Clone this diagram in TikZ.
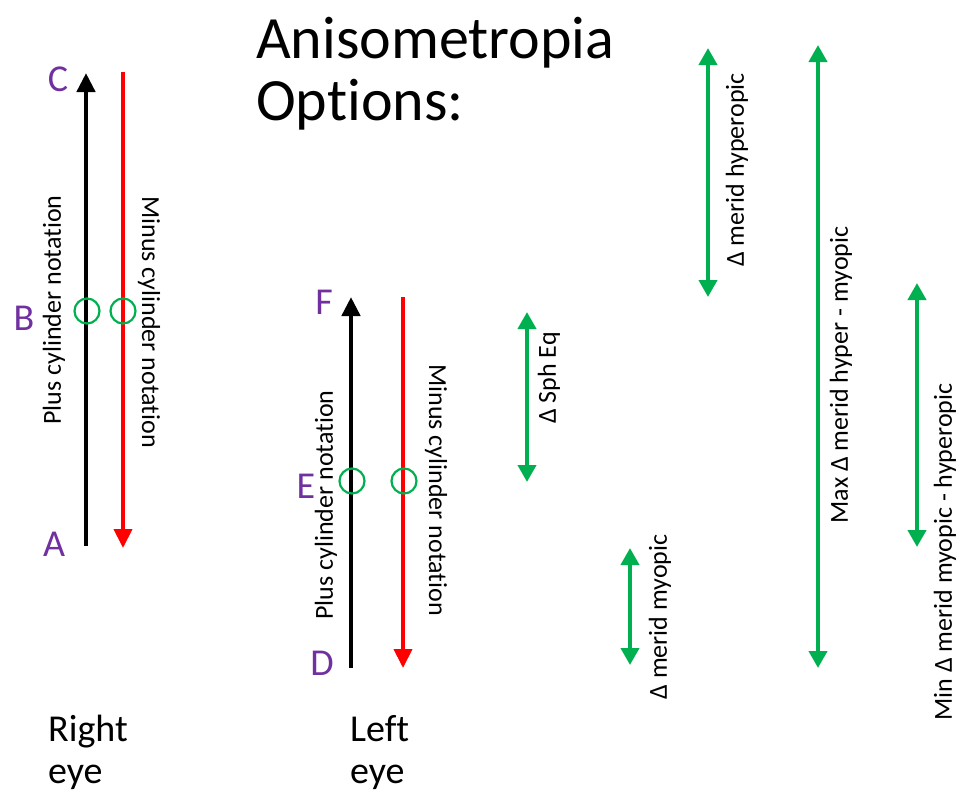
\documentclass[tikz,border=0pt]{standalone}
\usepackage{fontspec}
\setmainfont[Ligatures={NoCommon,NoContextual,NoRare}]{Carlito}
\usetikzlibrary{arrows.meta}
\definecolor{gr}{RGB}{0,176,80}
\definecolor{pu}{RGB}{112,48,160}
\definecolor{rd}{RGB}{255,0,0}
\begin{document}
\begin{tikzpicture}[x=1pt,y=-1pt,
  lbl/.style={text=pu,font=\fontsize{38}{38}\selectfont,inner sep=0},
  vtxt/.style={font=\fontsize{26}{26}\selectfont,inner sep=0},
  ttl/.style={font=\fontsize{60}{60}\selectfont,inner sep=0,anchor=base west},
  eyetxt/.style={font=\fontsize{38}{38}\selectfont,inner sep=0,anchor=base west},
  ring/.style={circle,draw=gr,line width=2.2pt,minimum size=25pt,inner sep=0},
  blk/.style={draw=black,line width=4.5pt,-{Triangle[width=18pt,length=19pt]}},
  red/.style={draw=rd,line width=4pt,-{Triangle[width=18pt,length=19pt]}},
  grn/.style={draw=gr,line width=4pt,{Triangle[width=18pt,length=17pt]}-{Triangle[width=18pt,length=17pt]}}
]
\useasboundingbox (0,0) rectangle (959,796);
% title
\node[ttl] (t1) at (256,58) {Anisometropia};
\node[ttl] (t2) at (256,120) {Options:};
% right eye
\coordinate (rA) at (86,546);
\coordinate (rC) at (86,73);
\coordinate (rRt) at (123,72);
\coordinate (rRb) at (123,548);
\draw[blk] (rA) -- (rC);
\draw[red] (rRt) -- (rRb);
\node[ring] (rb1) at (87,311) {};
\node[ring] (rb2) at (123,311) {};
\node[lbl] (C) at (58,79) {C};
\node[lbl] (B) at (24,318) {B};
\node[lbl] (A) at (54,544) {A};
\node[vtxt,rotate=90] (rplus) at (54,310) {Plus cylinder notation};
\node[vtxt,rotate=-90] (rminus) at (149,322) {Minus cylinder notation};
\node[eyetxt] (re1) at (48,741) {Right};
\node[eyetxt] (re2) at (48,783) {eye};
% left eye
\coordinate (lD) at (351,668);
\coordinate (lF) at (351,297);
\coordinate (lRt) at (403,297);
\coordinate (lRb) at (403,668);
\draw[blk] (lD) -- (lF);
\draw[red] (lRt) -- (lRb);
\node[ring] (le1) at (352,481) {};
\node[ring] (le2) at (404,481) {};
\node[lbl] (F) at (324,302) {F};
\node[lbl] (E) at (306,486) {E};
\node[lbl] (D) at (322,663) {D};
\node[vtxt,rotate=90] (lplus) at (326,505) {Plus cylinder notation};
\node[vtxt,rotate=-90] (lminus) at (436,490) {Minus cylinder notation};
\node[eyetxt] (le1t) at (350,741) {Left};
\node[eyetxt] (le2t) at (350,783) {eye};
% green arrows
\coordinate (g1a) at (527,312); \coordinate (g1b) at (527,482);
\coordinate (g2a) at (630,548); \coordinate (g2b) at (630,665);
\coordinate (g3a) at (708,48);  \coordinate (g3b) at (708,297);
\coordinate (g4a) at (818,45);  \coordinate (g4b) at (818,668);
\coordinate (g5a) at (917,283); \coordinate (g5b) at (917,547);
\draw[grn] (g1a) -- (g1b);
\draw[grn] (g2a) -- (g2b);
\draw[grn] (g3a) -- (g3b);
\draw[grn] (g4a) -- (g4b);
\draw[grn] (g5a) -- (g5b);
\node[vtxt,rotate=90] (s1) at (549,378) {Δ Sph Eq};
\node[vtxt,rotate=90] (s2) at (660,617) {Δ merid myopic};
\node[vtxt,rotate=90] (s3) at (737,170) {Δ merid hyperopic};
\node[vtxt,rotate=90] (s4) at (841,375) {Max Δ merid hyper - myopic};
\node[vtxt,rotate=90] (s5) at (945,552) {Min Δ merid myopic - hyperopic};
\end{tikzpicture}
\end{document}
